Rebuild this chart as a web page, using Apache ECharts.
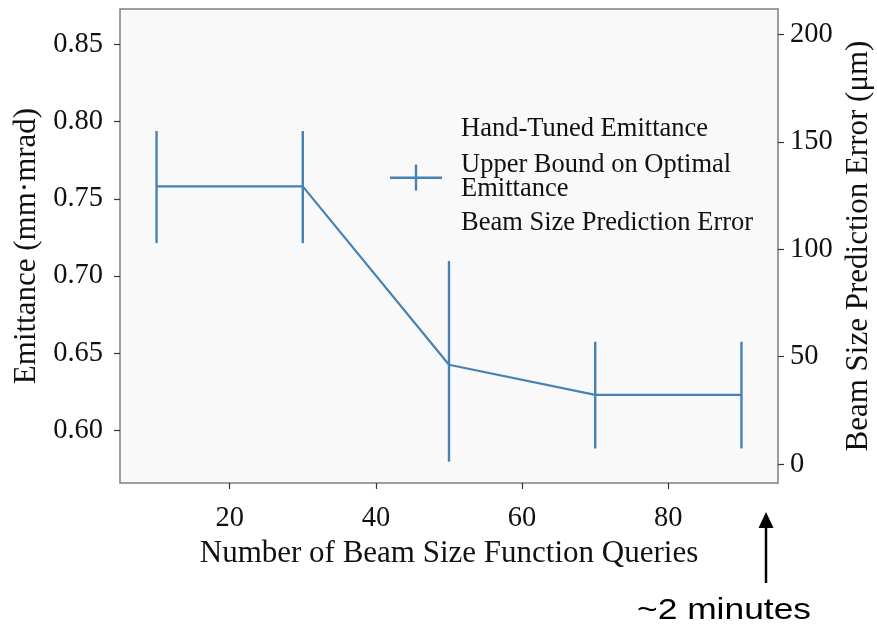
<!DOCTYPE html>
<html>
<head>
<meta charset="utf-8">
<script src="https://cdn.jsdelivr.net/npm/echarts@6/dist/echarts.min.js"></script>
<style>html,body{margin:0;padding:0;background:#fff;}#c{width:877px;height:629px;}</style>
</head>
<body>
<div id="c"></div>
<script>
// ---- data ----
const queries = [10, 30, 50, 70, 90];
const upperBound = [0.758, 0.758, 0.6425, 0.623, 0.623];
const errLow = [0.7213, 0.7213, 0.5797, 0.5883, 0.5883];
const errHigh = [0.7939, 0.7939, 0.7097, 0.6574, 0.6574];
const xTicks = [20, 40, 60, 80];
const leftTicks = [0.60, 0.65, 0.70, 0.75, 0.80, 0.85];
const rightTicks = [0, 50, 100, 150, 200];
const handTuned = [];
const predError = [];

const S1 = 'Hand-Tuned Emittance';
const S2 = 'Upper Bound on Optimal\nEmittance';
const S3 = 'Beam Size Prediction Error';
const SERIF = '"Liberation Serif", "Times New Roman", serif';
const BLUE = '#4682b4';

const chart = echarts.init(document.getElementById('c'));
const legendBase = {
  orient: 'vertical', left: 390, padding: 0, itemWidth: 52, itemHeight: 26, selectedMode: false,
  textStyle: {fontFamily: SERIF, fontSize: 26.5, color: '#111', lineHeight: 24, padding: [0, 0, 0, 14]}
};
chart.setOption({
  animation: false,
  backgroundColor: '#fff',
  grid: {left: 120, right: 99, top: 9, bottom: 146, outerBoundsMode: 'none', containLabel: false,
    show: true, backgroundColor: '#f9f9f9', borderColor: '#808080', borderWidth: 1.5},
  legend: [
    Object.assign({}, legendBase, {top: 116, data: [{name: S1, icon: 'rect'}]}),
    Object.assign({}, legendBase, {top: 152, data: [{name: S2, icon: 'path://M0,12H52V14.5H0Z M24.8,0H27.2V26H24.8Z'}]}),
    Object.assign({}, legendBase, {top: 210, data: [{name: S3, icon: 'rect'}]})
  ],
  xAxis: {
    type: 'value', min: 5, max: 95,
    name: 'Number of Beam Size Function Queries', nameLocation: 'middle', nameGap: 47,
    nameTextStyle: {fontFamily: SERIF, fontSize: 31, color: '#111'},
    axisLine: {show: false, onZero: false},
    axisTick: {show: true, inside: false, length: 6, customValues: xTicks, lineStyle: {color: '#333', width: 1.2}},
    axisLabel: {customValues: xTicks, fontFamily: SERIF, fontSize: 28.5, color: '#111', margin: 21},
    splitLine: {show: false}
  },
  yAxis: [{
    type: 'value', min: 0.5659, max: 0.8729, position: 'left',
    name: 'Emittance (mm·mrad)', nameLocation: 'middle', nameGap: 73,
    nameTextStyle: {fontFamily: SERIF, fontSize: 31, color: '#111'},
    axisLine: {show: false, onZero: false},
    axisTick: {show: true, length: 6, customValues: leftTicks, lineStyle: {color: '#333', width: 1.2}},
    axisLabel: {customValues: leftTicks, fontFamily: SERIF, fontSize: 28.5, color: '#111', margin: 17,
      formatter: v => v.toFixed(2)},
    splitLine: {show: false}
  }, {
    type: 'value', min: -8.8, max: 211.8, position: 'right',
    name: 'Beam Size Prediction Error (μm)', nameLocation: 'middle', nameGap: 63,
    nameTextStyle: {fontFamily: SERIF, fontSize: 31, color: '#111'},
    axisLine: {show: false, onZero: false},
    axisTick: {show: true, length: 6, customValues: rightTicks, lineStyle: {color: '#333', width: 1.2}},
    axisLabel: {customValues: rightTicks, fontFamily: SERIF, fontSize: 28.5, color: '#111', margin: 12},
    splitLine: {show: false}
  }],
  series: [
    {name: S1, type: 'line', yAxisIndex: 0, data: handTuned, color: 'rgba(0,0,0,0)', showSymbol: false},
    {name: S2, type: 'line', yAxisIndex: 0, color: BLUE, showSymbol: false,
      lineStyle: {width: 2.2, color: BLUE},
      data: queries.map((q, i) => [q, upperBound[i]])},
    {name: S2, type: 'custom', yAxisIndex: 0, color: BLUE,
      data: queries.map((q, i) => [q, errLow[i], errHigh[i]]),
      encode: {x: 0, y: [1, 2]},
      renderItem: (params, api) => {
        const x = api.value(0);
        const p1 = api.coord([x, api.value(1)]);
        const p2 = api.coord([x, api.value(2)]);
        return {type: 'line', shape: {x1: p1[0], y1: p1[1], x2: p2[0], y2: p2[1]},
          style: {stroke: BLUE, lineWidth: 2.4}};
      }},
    {name: S3, type: 'line', yAxisIndex: 1, data: predError, color: 'rgba(0,0,0,0)', showSymbol: false}
  ],
  graphic: [
    {type: 'line', shape: {x1: 766, y1: 583, x2: 766, y2: 524}, style: {stroke: '#000', lineWidth: 2.5}},
    {type: 'polygon', shape: {points: [[766, 512], [758.5, 528], [773.5, 528]]}, style: {fill: '#000'}},
    {type: 'text', x: 724, y: 611, scaleX: 1.22, style: {text: '~2 minutes', font: '29px "Liberation Sans", Arial, sans-serif', fill: '#000', align: 'center', verticalAlign: 'middle'}}
  ]
});
</script>
</body>
</html>
